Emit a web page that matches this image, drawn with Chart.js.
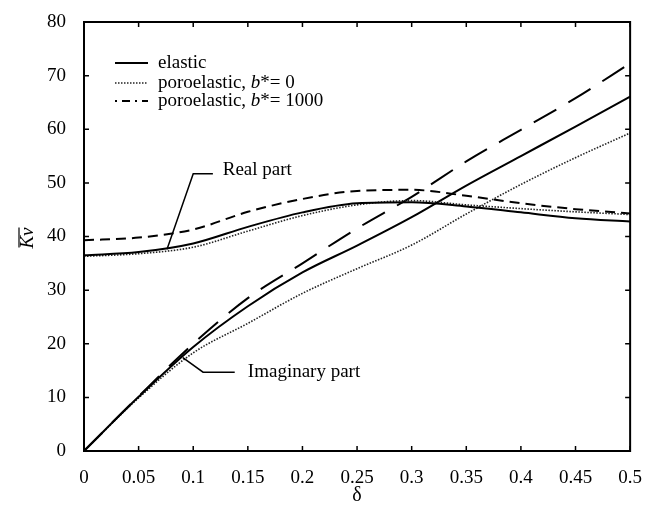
<!DOCTYPE html>
<html>
<head>
<meta charset="utf-8">
<script src="https://cdn.jsdelivr.net/npm/chart.js@4/dist/chart.umd.min.js"></script>
<style>
  html, body { margin: 0; background: #fff; }
  #wrap { width: 650px; height: 506px; }
</style>
</head>
<body>
<div id="wrap"><canvas id="chart"></canvas></div>
<script>
// delta values (x axis)
const delta = [0, 0.05, 0.1, 0.15, 0.2, 0.25, 0.3, 0.35, 0.4, 0.45, 0.5];

// real parts
const elasticReal  = [36.5, 37.1, 38.7, 41.8, 44.5, 46.2, 46.4, 45.6, 44.5, 43.4, 42.8];
const poroReal0    = [36.3, 36.8, 38.0, 41.0, 43.9, 45.9, 46.7, 45.9, 45.2, 44.6, 44.1];
const poroReal1000 = [39.3, 39.8, 41.3, 44.6, 47.0, 48.5, 48.7, 47.6, 46.2, 45.1, 44.3];

// imaginary parts
const elasticImag  = [0, 10.1, 19.4, 27.0, 33.3, 38.3, 43.6, 49.5, 55.0, 60.5, 66.1];
const poroImag0    = [0, 9.9, 18.3, 23.8, 29.4, 34.0, 38.4, 44.2, 49.7, 54.7, 59.3];
const poroImag1000 = [0, 10.2, 20.0, 28.5, 35.0, 41.5, 47.4, 54.0, 59.9, 65.8, 72.3];

const xTicks = [0, 0.05, 0.1, 0.15, 0.2, 0.25, 0.3, 0.35, 0.4, 0.45, 0.5];
const yTicks = [0, 10, 20, 30, 40, 50, 60, 70, 80];

const legendLabels = ['elastic', 'poroelastic, ', 'poroelastic, '];
const legendB = ['', '0', '1000'];

const SERIF = '"Liberation Serif", "DejaVu Serif", serif';

function pts(ys) {
  return delta.map((d, i) => ({ x: d, y: ys[i] }));
}

function series(ys, width, dash, color) {
  return {
    data: pts(ys),
    borderColor: color || '#000',
    borderWidth: width,
    borderDash: dash,
    pointRadius: 0,
    fill: false,
    cubicInterpolationMode: 'monotone'
  };
}

const datasets = [
  series(elasticReal, 2, []),
  series(poroReal0, 1.6, [1.5, 1.5], '#222'),
  series(poroReal1000, 2, [10, 6]),
  series(elasticImag, 2, []),
  series(poroImag0, 1.6, [1.5, 1.5], '#222'),
  series(poroImag1000, 2, [26, 14])
];

const decor = {
  id: 'decor',
  afterDraw(chart) {
    const ctx = chart.ctx;
    const a = chart.chartArea;
    const xs = chart.scales.x, ys = chart.scales.y;
    ctx.save();
    ctx.strokeStyle = '#000';
    ctx.fillStyle = '#000';

    // frame
    ctx.lineWidth = 2;
    ctx.setLineDash([]);
    ctx.strokeRect(a.left, a.top, a.right - a.left, a.bottom - a.top);

    // inward ticks on all sides
    ctx.lineWidth = 1.5;
    const tl = 5;
    ctx.beginPath();
    xTicks.forEach(v => {
      const p = xs.getPixelForValue(v);
      ctx.moveTo(p, a.bottom); ctx.lineTo(p, a.bottom - tl);
      ctx.moveTo(p, a.top); ctx.lineTo(p, a.top + tl);
    });
    yTicks.forEach(v => {
      const p = ys.getPixelForValue(v);
      ctx.moveTo(a.left, p); ctx.lineTo(a.left + tl, p);
      ctx.moveTo(a.right, p); ctx.lineTo(a.right - tl, p);
    });
    ctx.stroke();

    // axis titles
    ctx.font = '20px ' + SERIF;
    ctx.textAlign = 'center';
    ctx.textBaseline = 'middle';
    ctx.fillText('δ', (a.left + a.right) / 2, 496);

    ctx.save();
    ctx.translate(28, 238);
    ctx.rotate(-Math.PI / 2);
    ctx.font = 'italic 19px ' + SERIF;
    ctx.fillText('Kv', 0, 0);
    const w = ctx.measureText('Kv').width;
    ctx.lineWidth = 1.2;
    ctx.beginPath();
    ctx.moveTo(-w / 2 + 1, -9); ctx.lineTo(w / 2, -9);
    ctx.stroke();
    ctx.restore();

    // legend
    const lx0 = 115, lx1 = 148, tx = 158;
    const rows = [63, 83, 101];
    const styles = [
      { w: 2, d: [], c: '#000' },
      { w: 1.6, d: [1.5, 1.5], c: '#222' },
      { w: 2, d: [2, 5, 8, 5], c: '#000' }
    ];
    ctx.textAlign = 'left';
    rows.forEach((y, i) => {
      ctx.lineWidth = styles[i].w;
      ctx.strokeStyle = styles[i].c;
      ctx.setLineDash(styles[i].d);
      ctx.beginPath();
      ctx.moveTo(lx0, y); ctx.lineTo(lx1, y);
      ctx.stroke();
      ctx.setLineDash([]);
      ctx.font = '19px ' + SERIF;
      ctx.fillText(legendLabels[i], tx, y);
      if (legendB[i]) {
        let x = tx + ctx.measureText(legendLabels[i]).width;
        ctx.font = 'italic 19px ' + SERIF;
        ctx.fillText('b', x, y);
        x += ctx.measureText('b').width;
        ctx.font = '19px ' + SERIF;
        ctx.fillText('*= ' + legendB[i], x, y);
      }
    });

    // annotations with leader lines
    ctx.strokeStyle = '#000';
    ctx.lineWidth = 1.5;
    ctx.setLineDash([]);
    const X = v => xs.getPixelForValue(v), Y = v => ys.getPixelForValue(v);
    ctx.beginPath();
    ctx.moveTo(X(0.118), Y(51.7)); ctx.lineTo(X(0.1), Y(51.7)); ctx.lineTo(X(0.076), Y(37.6));
    ctx.moveTo(X(0.138), Y(14.7)); ctx.lineTo(X(0.109), Y(14.7)); ctx.lineTo(X(0.0905), Y(17.4));
    ctx.stroke();
    ctx.font = '19px ' + SERIF;
    ctx.fillText('Real part', X(0.127), Y(52.4));
    ctx.fillText('Imaginary part', X(0.150), Y(14.7));

    ctx.restore();
  }
};

new Chart(document.getElementById('chart'), {
  type: 'line',
  data: { datasets },
  options: {
    responsive: true,
    maintainAspectRatio: false,
    animation: false,
    layout: { padding: { top: 22, right: 19, left: 0, bottom: 0 } },
    plugins: { legend: { display: false }, tooltip: { enabled: false } },
    scales: {
      x: {
        type: 'linear',
        min: 0, max: 0.5,
        grid: { display: false },
        border: { display: false },
        afterBuildTicks: s => { s.ticks = xTicks.map(v => ({ value: v })); },
        afterFit: s => { s.height = 55; },
        ticks: {
          color: '#000',
          font: { family: SERIF, size: 19 },
          padding: 8,
          maxRotation: 0,
          autoSkip: false,
          callback: v => String(v)
        }
      },
      y: {
        min: 0, max: 80,
        grid: { display: false },
        border: { display: false },
        afterBuildTicks: s => { s.ticks = yTicks.map(v => ({ value: v })); },
        afterFit: s => { s.width = 84; },
        ticks: {
          color: '#000',
          font: { family: SERIF, size: 19 },
          padding: 10,
          autoSkip: false
        }
      }
    }
  },
  plugins: [decor]
});
</script>
</body>
</html>
